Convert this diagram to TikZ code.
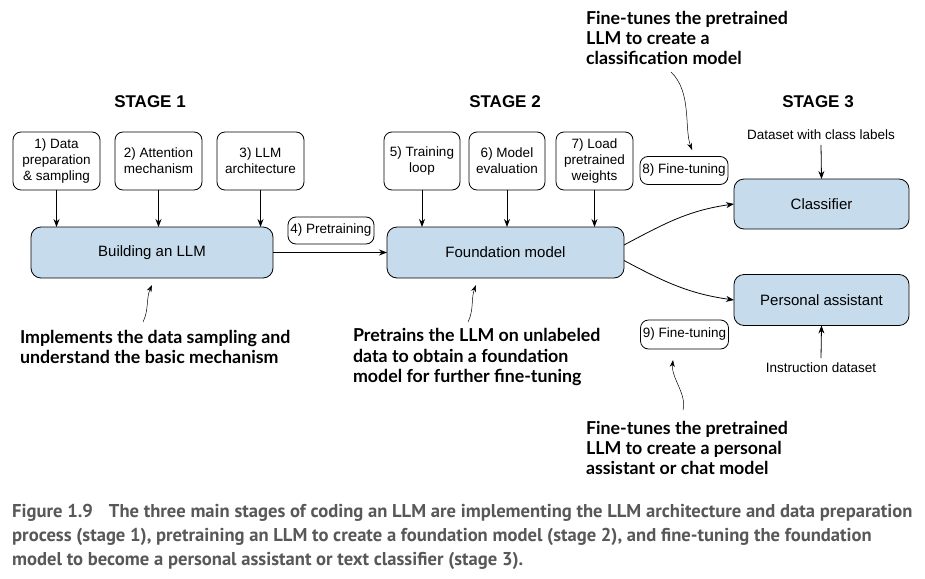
\documentclass[tikz,border=0pt]{standalone}
\usepackage{fontspec}
\setmainfont{Liberation Sans}
\newfontfamily\notefont{Lato}
\newfontfamily\capfont{PT Sans}
\usetikzlibrary{positioning,arrows.meta}
\definecolor{boxblue}{RGB}{198,219,236}
\definecolor{capgray}{RGB}{88,88,88}

\begin{document}
\begin{tikzpicture}[x=1pt,y=-1pt,
  every node/.style={inner sep=0pt,outer sep=0pt},
  task/.style={draw,rounded corners=8pt,align=center,minimum height=58pt,line width=0.8pt,font=\fontsize{13.5}{16}\selectfont},
  tag/.style={draw,rounded corners=8pt,minimum width=88pt,minimum height=28pt,line width=0.8pt,font=\fontsize{13.5}{16}\selectfont},
  model/.style={draw,fill=boxblue,rounded corners=10pt,minimum height=51pt,line width=0.8pt,font=\fontsize{15}{18}\selectfont},
  stage/.style={font=\bfseries\fontsize{17}{20}\selectfont},
  label/.style={font=\fontsize{13.5}{16}\selectfont},
  note/.style={font=\notefont\bfseries\fontsize{17.8}{20.3}\selectfont,align=left,anchor=west},
  arr/.style={-{Stealth[length=8pt,width=6pt]},line width=0.8pt},
  thinarr/.style={-{Stealth[length=7pt,width=5pt]},line width=0.5pt}]
\useasboundingbox (0,0) rectangle (925,578);

% stage titles
\node[stage] (s1) at (150,102) {STAGE 1};
\node[stage] (s2) at (505,102) {STAGE 2};
\node[stage] (s3) at (818,102) {STAGE 3};

% stage 1
\node[task,minimum width=87pt] (data) at (56.5,161) {1) Data\\preparation\\\& sampling};
\node[task,minimum width=87pt] (attn) at (158.5,161) {2) Attention\\mechanism};
\node[task,minimum width=87pt] (arch) at (260.5,161) {3) LLM\\architecture};
\node[model,minimum width=242pt] (build) at (152,252.5) {Building an LLM};

\draw[arr] (data.south) -- (data.south |- build.north);
\draw[arr] (attn.south) -- (attn.south |- build.north);
\draw[arr] (arch.south) -- (arch.south |- build.north);

% stage 2
\node[tag,minimum width=86pt,minimum height=27pt] (pre) at (331,230.5) {4) Pretraining};
\node[task,minimum width=76pt] (train) at (422,161) {5) Training\\loop};
\node[task,minimum width=76pt] (eval) at (507,161) {6) Model\\evaluation};
\node[task,minimum width=77pt] (load) at (594.5,161) {7) Load\\pretrained\\weights};
\node[model,minimum width=237pt] (found) at (505.5,252.5) {Foundation model};

\draw[arr] (build.east) -- (found.west);
\draw[arr] (train.south) -- (train.south |- found.north);
\draw[arr] (eval.south) -- (eval.south |- found.north);
\draw[arr] (load.south) -- (load.south |- found.north);

% stage 3
\node[tag] (ft8) at (684,170.5) {8) Fine-tuning};
\node[tag,minimum height=29pt] (ft9) at (684.5,334.5) {9) Fine-tuning};
\node[model,minimum width=175pt,minimum height=50pt] (cls) at (821.5,204) {Classifier};
\node[model,minimum width=175pt] (pa) at (821.5,300) {Personal assistant};
\node[label] (dset) at (821,135) {Dataset with class labels};
\node[label] (instr) at (821,368) {Instruction dataset};

\draw[arr] (dset.south) ++(0,5) -- (cls.north);
\draw[arr] (instr.north) ++(0,-5) -- (pa.south);
\draw[arr] ([yshift=7.5pt]found.east) to[out=28,in=188] (cls.west);
\draw[arr] ([yshift=-8pt]found.east) to[out=-28,in=172] (pa.west);

% notes
\node[note] (n1) at (20,347) {Implements the data sampling and\\understand the basic mechanism};
\node[note] (n2) at (353,357) {Pretrains the LLM on unlabeled\\data to obtain a foundation\\model for further fine-tuning};
\node[note] (n3) at (586,38) {Fine-tunes the pretrained\\LLM to create a\\classification model};
\node[note] (n4) at (586,448) {Fine-tunes the pretrained\\LLM to create a personal\\assistant or chat model};

\coordinate (t1) at (143,322);
\coordinate (t2) at (468,322);
\coordinate (t3) at (671,72);
\coordinate (t4) at (683,410);
\draw[thinarr] (t1) .. controls (149,310) and (146,298) .. (152,285);
\draw[thinarr] (t2) .. controls (474,310) and (471,298) .. (476,285);
\draw[thinarr] (t3) .. controls (692,92) and (684,128) .. (692,150);
\draw[thinarr] (t4) .. controls (687,394) and (671,378) .. (673,360);

% caption
\begin{scope}[every node/.style={anchor=west,inner sep=0pt,text=capgray,font=\capfont\bfseries\fontsize{18.6}{22}\selectfont}]
\node (c1) at (12,513) {Figure 1.9\hspace{16pt}The three main stages of coding an LLM are implementing the LLM architecture and data preparation};
\node (c2) at (12,537) {process (stage 1), pretraining an LLM to create a foundation model (stage 2), and fine-tuning the foundation};
\node (c3) at (12,561) {model to become a personal assistant or text classifier (stage 3).};
\end{scope}
\end{tikzpicture}
\end{document}
